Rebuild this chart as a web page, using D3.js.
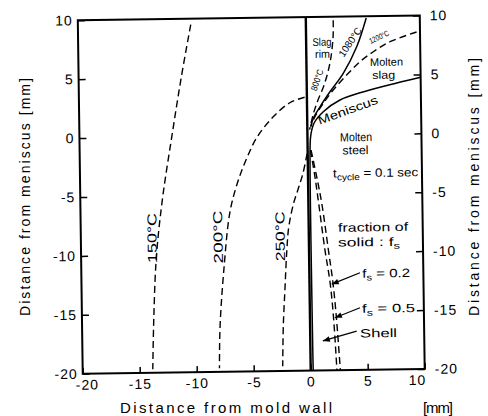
<!DOCTYPE html>
<html>
<head>
<meta charset="utf-8">
<script src="https://cdn.jsdelivr.net/npm/d3@7"></script>
<style>
  body { margin: 0; background: #fff; }
  svg { display: block; font-family: "Liberation Sans", Arial, sans-serif; }
</style>
</head>
<body>
<svg width="488" height="416"></svg>
<script>
// tick values (mm)
const xTicks = [-20, -15, -10, -5, 0, 5, 10];
const yTicks = [-20, -15, -10, -5, 0, 5, 10];

// isotherms in the mold, [distance from wall, distance from meniscus] in mm
const iso150 = [[-10.1, 9.5], [-11.0, 5.0], [-11.9, 0.0], [-12.8, -5.3], [-13.4, -10.2], [-13.7, -15.4], [-13.85, -19.7]];
const iso200 = [[-0.2, 3.2], [-1.5, 2.75], [-3.0, 1.55], [-4.4, -0.1], [-5.3, -1.8], [-6.2, -4.0], [-6.9, -6.5], [-7.5, -11.4], [-7.9, -16.2], [-8.0, -19.7]];
const iso250 = [[-0.05, -1.6], [-0.45, -3.3], [-0.85, -4.5], [-1.3, -5.8], [-1.75, -7.8], [-1.95, -9.8], [-2.15, -12.9], [-2.35, -16.2], [-2.45, -19.6]];

// isotherms in the slag
const iso800 = [[2.4, 9.7], [2.37, 8.3], [2.07, 6.1], [1.52, 4.2], [0.97, 2.95], [0.52, 1.7], [0.2, 0.45]];
const iso1080 = [[5.3, 9.85], [4.43, 7.42], [3.22, 5.18], [2.03, 3.63], [1.14, 2.37], [0.54, 1.4], [0.3, 0.7]];
const iso1200 = [[9.7, 8.6], [7.36, 7.81], [5.88, 6.98], [4.7, 6.15], [3.52, 5.04], [2.32, 3.78], [1.43, 2.66], [0.68, 1.53], [0.3, 0.7]];

// meniscus running into the shell
const meniscus = [[10, 4.75], [7.9, 4.3], [5.0, 3.6], [2.9, 2.92], [1.42, 1.95], [0.6, 1.0], [0.3, 0.0], [0.22, -1.0], [0.22, -20]];

// fraction of solid
const fs02 = [[0.25, -1.3], [0.6, -3.5], [0.9, -5.8], [1.4, -9.8], [1.8, -12.5], [2.05, -15.3], [2.3, -20]];
const fs05 = [[0.3, -1.3], [0.75, -3.5], [1.17, -5.8], [1.7, -9.8], [2.05, -12.5], [2.3, -15.3], [2.6, -20]];

var svg = d3.select('svg');
const box = {left: 80.25, right: 422.25, top: 17.85, bottom: 371.35};

const xScale = d3.scaleLinear().domain([-20, 10]).range([box.left, box.right]);
const yScale = d3.scaleLinear().domain([-20, 10]).range([box.bottom, box.top]);

// the original scan is a little tilted
const g = svg.append('g').attr('transform', 'rotate(-0.8, 251.25, 194.6)');

const fmt = d => d < 0 ? '-' + Math.abs(d) : d;

function styleAxis(sel) {
  sel.select('.domain').remove();
  sel.attr('font-family', null).attr('font-size', 14);
  sel.selectAll('line').attr('stroke-width', 1.5);
  sel.selectAll('text').attr('letter-spacing', 1);
}

g.append('g').attr('transform', `translate(${box.left},0)`)
  .call(d3.axisLeft(yScale).tickValues(yTicks).tickSizeInner(-7).tickSizeOuter(0).tickPadding(5).tickFormat(fmt))
  .call(styleAxis);
g.append('g').attr('transform', `translate(${box.right},0)`)
  .call(d3.axisRight(yScale).tickValues(yTicks).tickSizeInner(-7).tickSizeOuter(0).tickPadding(10).tickFormat(fmt))
  .call(styleAxis);
g.append('g').attr('transform', `translate(0,${box.bottom})`)
  .call(d3.axisBottom(xScale).tickValues(xTicks).tickSizeInner(-6).tickSizeOuter(0).tickPadding(6).tickFormat(fmt))
  .call(styleAxis)
  .call(a => a.selectAll('.tick text').attr('dx', d => d === 10 ? -8 : d === -20 ? 4 : 0));

g.append('rect')
  .attr('x', box.left).attr('y', box.top)
  .attr('width', box.right - box.left).attr('height', box.bottom - box.top)
  .attr('fill', 'none').attr('stroke', '#000').attr('stroke-width', 2);

// mold wall
g.append('line')
  .attr('x1', xScale(0)).attr('x2', xScale(0))
  .attr('y1', yScale(-20)).attr('y2', yScale(10))
  .attr('stroke', '#000').attr('stroke-width', 2.4);

const line = d3.line()
  .x(d => xScale(d[0]))
  .y(d => yScale(d[1]))
  .curve(d3.curveCatmullRom);

const curves = [
  {pts: iso150, dash: true},
  {pts: iso200, dash: true},
  {pts: iso250, dash: true},
  {pts: iso800, dash: true},
  {pts: iso1080, dash: false},
  {pts: iso1200, dash: true},
  {pts: meniscus, dash: false},
  {pts: fs02, dash: true},
  {pts: fs05, dash: true}
];

g.selectAll('path.curve').data(curves)
  .enter().append('path')
  .attr('class', 'curve')
  .attr('d', d => line(d.pts))
  .attr('fill', 'none')
  .attr('stroke', '#000')
  .attr('stroke-width', d => d.dash ? 1.4 : 1.5)
  .attr('stroke-dasharray', d => d.dash ? '7,4' : null);

// arrow heads
svg.append('defs').append('marker')
  .attr('id', 'arr')
  .attr('viewBox', '0 0 10 10')
  .attr('refX', 10).attr('refY', 5)
  .attr('markerWidth', 8).attr('markerHeight', 7)
  .attr('markerUnits', 'userSpaceOnUse')
  .attr('orient', 'auto')
  .append('path').attr('d', 'M0,1 L10,5 L0,9 z').attr('fill', '#000');

const arrows = [
  [[4.44, -11.76], [1.95, -12.7]],
  [[4.40, -14.73], [2.19, -15.55]],
  [[4.08, -16.7], [1.1, -17.5]]
];
g.selectAll('line.arrow').data(arrows)
  .enter().append('line')
  .attr('class', 'arrow')
  .attr('x1', d => xScale(d[0][0])).attr('y1', d => yScale(d[0][1]))
  .attr('x2', d => xScale(d[1][0])).attr('y2', d => yScale(d[1][1]))
  .attr('stroke', '#000').attr('stroke-width', 1.3)
  .attr('marker-end', 'url(#arr)');

// text labels, centred on a point given in mm
// parts: plain strings, or {t, dy, sub} for sub-scripts
function note(parts, x, y, len, size, angle) {
  const t = g.append('text')
    .attr('transform', `translate(${xScale(x)},${yScale(y)}) rotate(${angle || 0})`)
    .attr('text-anchor', 'middle')
    .attr('dy', '0.35em')
    .attr('font-size', size)
    .attr('textLength', len)
    .attr('lengthAdjust', 'spacingAndGlyphs');
  parts.forEach(p => {
    if (typeof p === 'string') t.append('tspan').text(p);
    else t.append('tspan')
      .attr('font-size', p.sub ? size * 0.75 : size)
      .attr('dy', p.dy).text(p.t);
  });
  return t;
}

note(['Slag'], 1.39, 7.87, 19, 11);
note(['rim'], 1.42, 6.85, 15, 11);
note(['800°C'], 0.91, 4.65, 22, 9, -70);
note(['1080°C'], 3.85, 7.83, 33, 10, -55);
note(['1200°C'], 6.4, 8.22, 21, 8, -24);
note(['Molten'], 7.03, 6.1, 33, 11);
note(['slag'], 6.77, 5.0, 23, 11);
note(['Meniscus'], 3.57, 2.06, 63, 12, -19);
note(['Molten'], 4.26, -0.24, 32, 12);
note(['steel'], 4.2, -1.34, 26, 12);
note(['t', {t: 'cycle', dy: 3, sub: true}, {t: ' = 0.1 sec', dy: -3}], 5.93, -3.28, 85, 12);
note(['fraction of'], 5.64, -7.9, 70, 12);
note(['solid : f', {t: 's', dy: 3, sub: true}], 5.27, -9.16, 62, 12);
note(['f', {t: 's', dy: 3, sub: true}, {t: ' = 0.2', dy: -3}], 6.73, -11.82, 48, 12);
note(['f', {t: 's', dy: 3, sub: true}, {t: ' = 0.5', dy: -3}], 6.9, -14.8, 53, 12);
note(['Shell'], 5.99, -16.9, 37, 12);
note(['150°C'], -13.76, -8.57, 50, 13, -90);
note(['200°C'], -7.97, -8.56, 53, 13, -90);
note(['250°C'], -2.53, -8.57, 50, 13, -90);

// axis titles
svg.append('text')
  .attr('transform', 'translate(25,197) rotate(-90)')
  .attr('text-anchor', 'middle').attr('dy', '0.35em')
  .attr('font-size', 14).attr('textLength', 238).attr('lengthAdjust', 'spacing')
  .text('Distance from meniscus  [mm]');
svg.append('text')
  .attr('transform', 'translate(474,187) rotate(-90)')
  .attr('text-anchor', 'middle').attr('dy', '0.35em')
  .attr('font-size', 14).attr('textLength', 258).attr('lengthAdjust', 'spacing')
  .text('Distance from meniscus  [mm]');
svg.append('text')
  .attr('x', 120).attr('y', 408)
  .attr('dy', '0.35em')
  .attr('font-size', 15).attr('textLength', 212).attr('lengthAdjust', 'spacing')
  .text('Distance from mold wall');
svg.append('text')
  .attr('x', 423).attr('y', 408)
  .attr('dy', '0.35em')
  .attr('font-size', 15).attr('textLength', 30).attr('lengthAdjust', 'spacing')
  .text('[mm]');
</script>
</body>
</html>
